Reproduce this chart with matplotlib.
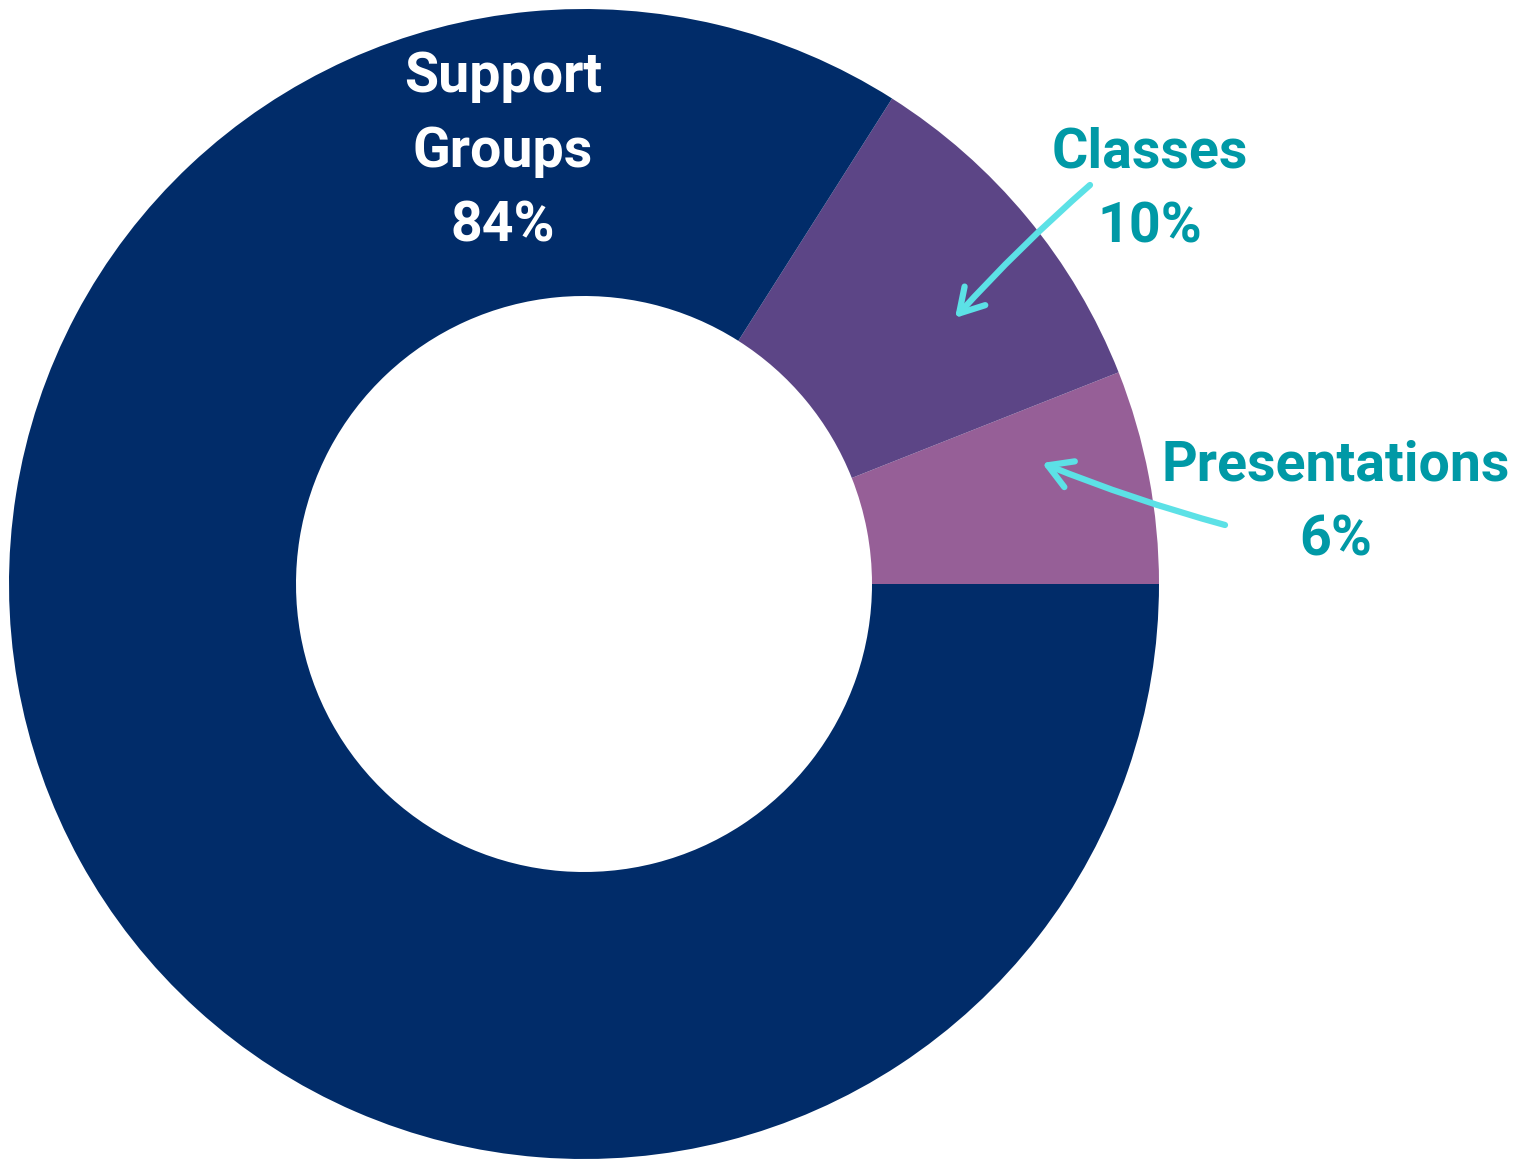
import matplotlib.pyplot as plt

labels = ["Presentations", "Classes", "Support Groups"]
shares = [6, 10, 84]
colors = ["#965F97", "#5C4586", "#012C69"]

TEAL = "#0099A6"
ARROW = "#5CE1E6"
FONT = ["Roboto", "DejaVu Sans"]

W, H = 1522, 1160
fig = plt.figure(figsize=(W / 100, H / 100), dpi=100)
ax = fig.add_axes([0, 0, 1, 1])

ax.pie(shares, colors=colors, startangle=0, counterclock=True,
       center=(584, H - 584), radius=575, frame=True,
       wedgeprops=dict(width=287, linewidth=0))
ax.set_xlim(0, W)
ax.set_ylim(0, H)
ax.axis("off")

txt = dict(fontsize=40, fontweight="bold", family=FONT, ha="center",
           va="center", linespacing=1.55)
ax.text(503, H - 152, "Support\nGroups\n84%", color="white", **txt)
ax.text(1150, H - 190, "Classes\n10%", color=TEAL, **txt)
ax.text(1336, H - 503, "Presentations\n6%", color=TEAL, **txt)

arrow = dict(arrowstyle="->,head_length=1.7,head_width=1.0", color=ARROW,
             lw=4.5, shrinkA=0, shrinkB=0)
ax.annotate("", xy=(955, H - 318), xytext=(1090, H - 185),
            arrowprops=dict(connectionstyle="arc3,rad=0.03", **arrow))
ax.annotate("", xy=(1042, H - 463), xytext=(1225, H - 525),
            arrowprops=dict(connectionstyle="arc3,rad=-0.03", **arrow))

fig.savefig("out.png", dpi=100, facecolor="white")
